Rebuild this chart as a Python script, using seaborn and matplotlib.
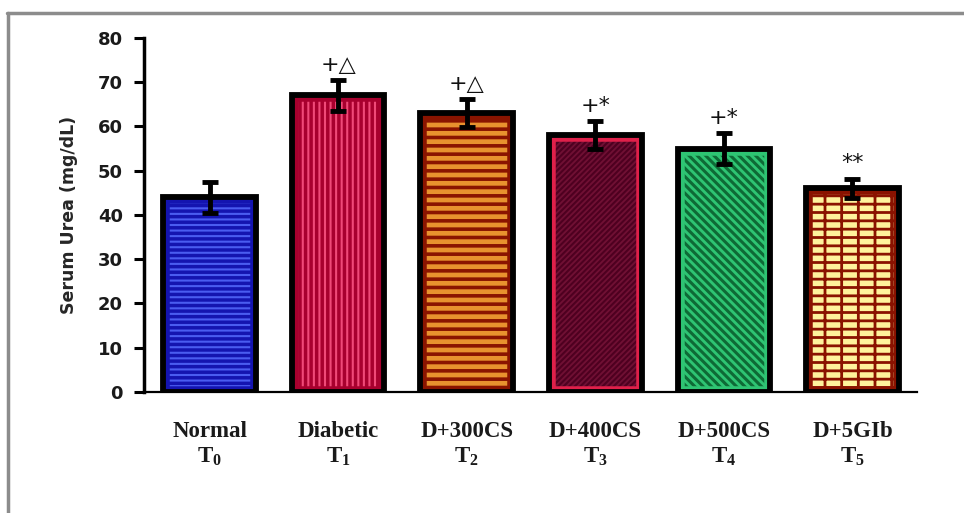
import matplotlib
matplotlib.use("Agg")
import matplotlib.pyplot as plt
import seaborn as sns
import pandas as pd
from matplotlib.patches import Rectangle
from matplotlib.lines import Line2D

# Serum urea per group (mean and SEM, mg/dL)
groups = ["Normal\nT$_0$", "Diabetic\nT$_1$", "D+300CS\nT$_2$",
          "D+400CS\nT$_3$", "D+500CS\nT$_4$", "D+5GIb\nT$_5$"]
means = [44, 67, 63, 58, 55, 46]
sems = [3.5, 3.5, 3.2, 3.2, 3.5, 2.2]
marks = ["", "+\u25B3", "+\u25B3", "+*", "+*", "**"]

# fill / hatch styling per bar
fills = ["#1414b0", "#a8002e", "#e8922e", "#701034", "#2ec473", "#fff29c"]
hatch_cols = ["#4a5cf0", "#f04a78", "#8a1400", "#4e0020", "#0e6a36", "#8a1200"]
hatches = ["---", "|||", "--", "//////", "\\\\\\\\", "--|"]
hatch_lws = [1.5, 1.5, 2.6, 1.5, 2.2, 2.0]
inner_cols = ["#1414b0", "#a8002e", "#8a1400", "#e0204a", "#2ec473", "#8a1200"]

df = pd.DataFrame({"group": groups, "urea": means})

sns.set_theme(style="white")
plt.rcParams["mathtext.fontset"] = "custom"
plt.rcParams["mathtext.rm"] = "Liberation Serif:bold"
plt.rcParams["mathtext.bf"] = "Liberation Serif:bold"
plt.rcParams["mathtext.default"] = "bf"
plt.rcParams["hatch.linewidth"] = 2.0

fig = plt.figure(figsize=(9.64, 5.13), dpi=100)
ax = fig.add_axes([0.149, 0.236, 0.802, 0.690])

sns.barplot(data=df, x="group", y="urea", ax=ax, width=0.72,
            palette=fills, hue="group", legend=False, errorbar=None,
            edgecolor="none", linewidth=0, saturation=1)

bars = list(ax.patches)
for i, p in enumerate(bars):
    x0, y0, w, h = p.get_x(), p.get_y(), p.get_width(), p.get_height()
    hp = Rectangle((x0, y0), w, h, facecolor="none", edgecolor=hatch_cols[i],
                   hatch=hatches[i], lw=0, zorder=2.5)
    if hasattr(hp, "set_hatch_linewidth"):
        hp.set_hatch_linewidth(hatch_lws[i])
    ax.add_patch(hp)
    # coloured inner rim, kept inside the bar
    rim = Rectangle((x0, y0), w, h, facecolor="none",
                    edgecolor=inner_cols[i], lw=9, zorder=3)
    ax.add_patch(rim)
    rim.set_clip_path(p)
    ax.add_patch(Rectangle((x0, y0), w, h, facecolor="none",
                           edgecolor="black", lw=4.2, zorder=4,
                           joinstyle="miter"))
    cx = x0 + w / 2
    ax.errorbar(cx, means[i], yerr=sems[i], color="black", lw=3.5,
                capsize=5.5, capthick=3.5, zorder=5)
    if marks[i]:
        ax.text(cx, means[i] + sems[i] + 1.2, marks[i], ha="center",
                va="bottom", fontsize=16, color="#111111",
                family=["DejaVu Sans"], zorder=6)

ax.set_xlim(-0.513, 5.5)
ax.set_ylim(0, 80)
ax.set_yticks(range(0, 81, 10))
ax.set_xlabel("")
ax.set_ylabel("Serum Urea (mg/dL)", fontsize=12.5, fontweight="bold",
              family="DejaVu Sans", labelpad=14)

for lab in ax.get_yticklabels():
    lab.set_fontweight("bold")
    lab.set_fontsize(13)
    lab.set_family("DejaVu Sans")
ax.set_xticks(range(len(groups)))
ax.set_xticklabels(groups, fontsize=16.5, fontweight="bold",
                   family="Liberation Serif", linespacing=1.2)

ax.tick_params(axis="y", which="major", left=True, length=7, width=2.2,
               color="black", pad=8, labelcolor="#1a1a1a")
ax.tick_params(axis="x", bottom=False, pad=15, labelcolor="#1a1a1a")

sns.despine(ax=ax, top=True, right=True)
ax.spines["left"].set_linewidth(2.5)
ax.spines["left"].set_color("black")
ax.spines["bottom"].set_linewidth(1.6)
ax.spines["bottom"].set_color("black")

# grey frame along the top and left edges
fig.add_artist(Line2D([0.007, 1.0], [0.974, 0.974], transform=fig.transFigure,
                      color="#8c8c8c", lw=2.5))
fig.add_artist(Line2D([0.008, 0.008], [0.0, 0.974], transform=fig.transFigure,
                      color="#8c8c8c", lw=2.5))

fig.savefig("out.png", dpi=100)
